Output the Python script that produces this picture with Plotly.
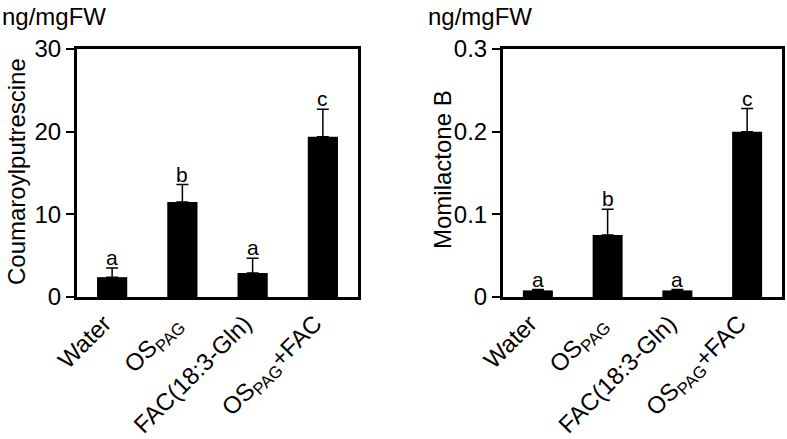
import plotly.graph_objects as go
from plotly.subplots import make_subplots

categories = ["Water", "OS<sub>PAG</sub>", "FAC(18:3-Gln)", "OS<sub>PAG</sub>+FAC"]
coum_values = [2.4, 11.5, 2.9, 19.4]
coum_err = [1.1, 2.1, 1.8, 3.3]
momi_values = [0.008, 0.075, 0.008, 0.200]
momi_err = [0.001, 0.031, 0.001, 0.028]
letters = ["a", "b", "a", "c"]
coum_ticks = [0, 10, 20, 30]
coum_ticktext = ["0", "10", "20", "30"]
momi_ticks = [0, 0.1, 0.2, 0.3]
momi_ticktext = ["0", "0.1", "0.2", "0.3"]

FONT = "Arial, Liberation Sans, sans-serif"
W, H = 787, 439

fig = make_subplots(rows=1, cols=2)

for col, vals, errs in [(1, coum_values, coum_err), (2, momi_values, momi_err)]:
    fig.add_trace(go.Bar(
        x=categories, y=vals, marker=dict(color="black", line=dict(width=0)),
        error_y=dict(type="data", array=errs, arrayminus=[0] * len(errs), symmetric=False,
                     color="black", thickness=1.5, width=6),
        showlegend=False), row=1, col=col)
    for c, v, e, l in zip(categories, vals, errs, letters):
        fig.add_annotation(x=c, y=v + e, text=l, showarrow=False, yanchor="bottom",
                           yshift=-3, font=dict(size=21, color="black", family=FONT),
                           xref="x" if col == 1 else "x2", yref="y" if col == 1 else "y2")

ydom = [1 - 297 / H, 1 - 49 / H]
axis_common = dict(showline=True, linecolor="black", linewidth=3, mirror=True,
                   showgrid=False, zeroline=False, automargin=False,
                   tickfont=dict(size=24, color="black", family=FONT))
fig.update_layout(
    xaxis=dict(domain=[77 / W, 358 / W], range=[-0.5, 3.5], ticks="", tickangle=-45,
               ticklabelshift=-8, **axis_common),
    xaxis2=dict(domain=[503 / W, 782 / W], range=[-0.5, 3.5], ticks="", tickangle=-45,
                ticklabelshift=-8, **axis_common),
    yaxis=dict(domain=ydom, range=[0, 30], tickvals=coum_ticks, ticktext=coum_ticktext,
               ticks="outside", ticklen=8, tickwidth=2, tickcolor="black", **axis_common),
    yaxis2=dict(domain=ydom, range=[0, 0.3], tickvals=momi_ticks, ticktext=momi_ticktext,
                ticks="outside", ticklen=8, tickwidth=2, tickcolor="black", **axis_common),
    bargap=0.57,
    width=W, height=H,
    margin=dict(l=0, r=0, t=0, b=0, autoexpand=False),
    plot_bgcolor="white", paper_bgcolor="white",
    font=dict(family=FONT, color="black"),
)

# axis titles and units
fig.add_annotation(x=16 / W, y=1 - 172 / H, xref="paper", yref="paper", text="Coumaroylputrescine",
                   textangle=-90, showarrow=False, xanchor="center", yanchor="middle",
                   font=dict(size=24, color="black", family=FONT))
fig.add_annotation(x=442 / W, y=1 - 170 / H, xref="paper", yref="paper", text="Momilactone B",
                   textangle=-90, showarrow=False, xanchor="center", yanchor="middle",
                   font=dict(size=24, color="black", family=FONT))
fig.add_annotation(x=0, y=1 - 1 / H, xref="paper", yref="paper", text="ng/mgFW", xanchor="left",
                   yanchor="top", showarrow=False, font=dict(size=24, color="black", family=FONT))
fig.add_annotation(x=426 / W, y=1 - 1 / H, xref="paper", yref="paper", text="ng/mgFW", xanchor="left",
                   yanchor="top", showarrow=False, font=dict(size=24, color="black", family=FONT))

fig.write_html("out.html", config={"displayModeBar": False},
               post_script="document.body.style.margin='0';document.body.style.overflow='hidden';")
